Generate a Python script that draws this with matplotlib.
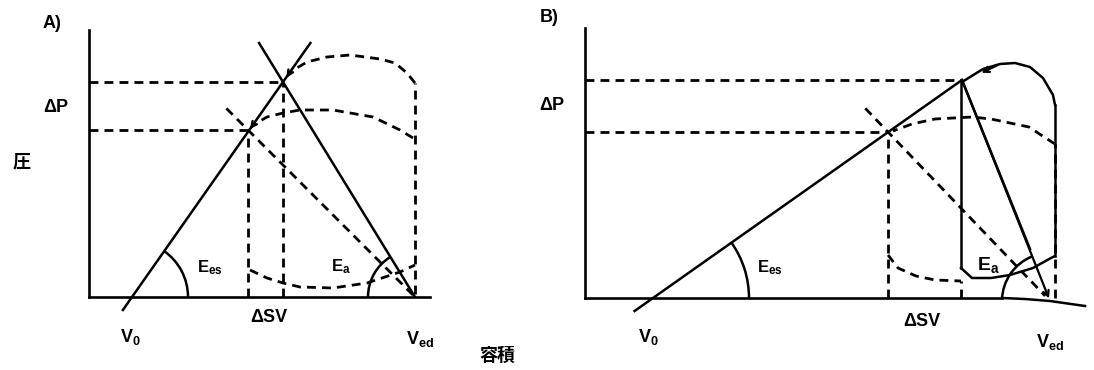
import numpy as np
import matplotlib.pyplot as plt
from matplotlib.patches import Arc

plt.rcParams['font.family'] = ['Liberation Sans', 'Noto Sans CJK JP', 'DejaVu Sans']
plt.rcParams['font.weight'] = 'bold'

# ---- panel A: volume / pressure in diagram units ----
a_v0 = 43
a_ved = 326
a_es_vol = [159, 194]          # end-systolic volume, low / high afterload
a_es_p = [167, 215]            # end-systolic pressure, low / high afterload
a_ej_hi_vol = [326, 318, 306, 291, 261, 238, 218, 201]
a_ej_hi_p = [214, 224, 234, 238, 242, 240, 235, 225]
a_ej_lo_vol = [324, 311, 284, 244, 211, 194, 178, 164]
a_ej_lo_p = [159, 167, 180, 187, 187, 184, 180, 172]
a_fill_vol = [161, 178, 194, 211, 244, 278, 311, 326]
a_fill_p = [27, 19, 14, 10, 9, 14, 25, 32]

# ---- panel B ----
b_v0 = 68
b_ved = 465
b_ved_p = -3
b_es_vol = [303, 377]
b_es_p = [166, 218]
b_ej_hi_vol = [377, 398, 415, 430, 445, 458, 468, 470]
b_ej_hi_p = [216, 229, 234, 235, 231, 220, 203, 193]
b_fill_hi_vol = [376, 387, 406, 425, 448, 466, 470]
b_fill_hi_p = [30, 20, 20, 23, 30, 40, 42]
b_ej_lo_vol = [470, 459, 444, 406, 387, 350, 327, 308]
b_ej_lo_p = [154, 161, 171, 179, 181, 179, 174, 167]
b_fill_lo_vol = [303, 313, 331, 350, 376]
b_fill_lo_p = [43, 30, 22, 18, 17]
b_tail_vol = [417, 440, 465, 500]
b_tail_p = [0, -1, -3, -8]

LW = 1.8
DASH = (0, (3.2, 2.2))
K = 'black'

fig = plt.figure(figsize=(10.94, 3.70), dpi=100)
axA = fig.add_axes([0, 0, 0.5, 1])
axB = fig.add_axes([0.5, 0, 0.5, 1])
axA.set_xlim(-89, 458)
axA.set_ylim(-73, 297)
axB.set_xlim(-38, 509)
axB.set_ylim(-72, 298)


def frame(ax, ytop, xright):
    for s in ['top', 'right']:
        ax.spines[s].set_visible(False)
    for s in ['left', 'bottom']:
        ax.spines[s].set_position(('data', 0))
        ax.spines[s].set_linewidth(1.9)
    ax.spines['left'].set_bounds(0, ytop)
    ax.spines['bottom'].set_bounds(0, xright)
    ax.set_xticks([])
    ax.set_yticks([])
    ax.patch.set_visible(False)


def dashed(ax, x, y):
    ax.plot(x, y, color=K, lw=2.0, ls=DASH, solid_capstyle='butt')


def arrow(ax, start, end):
    ax.annotate('', xy=end, xytext=start,
                arrowprops=dict(arrowstyle='->', color=K, lw=1.6,
                                mutation_scale=10))


def label(ax, x, y, s, size=13):
    ax.text(x, y, s, ha='center', va='center', fontsize=size, fontweight='bold')


# ================= A =================
ax = axA
frame(ax, 267, 341)
ees_a = a_es_p[1] / (a_es_vol[1] - a_v0)
p = np.array([-13, 254])
ax.plot(a_v0 + p / ees_a, p, color=K, lw=LW)
ea_a = a_es_p[1] / (a_ved - a_es_vol[1])
p = np.array([0, 254])
ax.plot(a_ved - p / ea_a, p, color=K, lw=LW)
ea_a2 = a_es_p[0] / (a_ved - a_es_vol[0])
p = np.array([2, 190])
dashed(ax, a_ved - p / ea_a2, p)

for v, pe in zip(a_es_vol, a_es_p):
    dashed(ax, [0, v], [pe, pe])
    dashed(ax, [v, v], [0, pe])

dashed(ax, [a_ved, a_ved], [3, a_ej_hi_p[0]])
dashed(ax, a_ej_hi_vol, a_ej_hi_p)
dashed(ax, a_ej_lo_vol, a_ej_lo_p)
dashed(ax, a_fill_vol, a_fill_p)
arrow(ax, (a_ej_hi_vol[-1], a_ej_hi_p[-1]), (a_es_vol[1] + 2, a_es_p[1] + 2))
arrow(ax, (a_ej_lo_vol[-1], a_ej_lo_p[-1]), (a_es_vol[0] + 2, a_es_p[0] + 1))

ax.add_patch(Arc((a_v0, 0), 112, 112, theta1=0,
                 theta2=np.degrees(np.arctan(ees_a)), color=K, lw=LW))
ax.add_patch(Arc((a_ved, 0), 94, 94,
                 theta1=180 - np.degrees(np.arctan(ea_a)), theta2=180,
                 color=K, lw=LW))

label(ax, -37, 274, 'A)')
label(ax, -33, 190, 'ΔP')
label(ax, -67, 134, '圧')
label(ax, 121, 29, r'$\mathregular{E_{es}}$', 12)
label(ax, 252, 30, r'$\mathregular{E_{a}}$', 12)
label(ax, 180, -21, 'ΔSV')
label(ax, 41, -40, r'$\mathregular{V_{0}}$')
label(ax, 331, -42, r'$\mathregular{V_{ed}}$')

# ================= B =================
ax = axB
frame(ax, 270, 417)
ax.plot(b_tail_vol, b_tail_p, color=K, lw=LW)
ees_b = b_es_p[1] / (b_es_vol[1] - b_v0)
p = np.array([-13, b_es_p[1]])
ax.plot(b_v0 + p / ees_b, p, color=K, lw=LW)
arrow(ax, (b_es_vol[1], b_es_p[1]), (b_ved, b_ved_p))
ax.plot([b_es_vol[1], b_ved - 20], [b_es_p[1], b_ved_p + 52], color=K, lw=LW)
dv = b_ved - b_es_vol[0]
dp = b_ved_p - b_es_p[0]
t = np.array([-0.14, 0.97])
dashed(ax, b_es_vol[0] + t * dv, b_es_p[0] + t * dp)

for v, pe in zip(b_es_vol, b_es_p):
    dashed(ax, [0, v], [pe, pe])
dashed(ax, [b_es_vol[0], b_es_vol[0]], [0, b_es_p[0]])
dashed(ax, [b_fill_lo_vol[-1], b_fill_lo_vol[-1]], [0, b_fill_lo_p[-1]])

# high afterload loop (solid)
ax.plot(b_ej_hi_vol, b_ej_hi_p, color=K, lw=LW)
ax.plot([b_ej_hi_vol[-1], b_ej_hi_vol[-1]], [b_ej_hi_p[-1], b_fill_hi_p[-1]], color=K, lw=LW)
ax.plot(b_fill_hi_vol, b_fill_hi_p, color=K, lw=LW)
ax.plot([b_fill_hi_vol[0], b_fill_hi_vol[0]], [b_fill_hi_p[0], b_es_p[1]], color=K, lw=LW)
arrow(ax, (b_ej_hi_vol[2], b_ej_hi_p[2]), (b_ej_hi_vol[1] - 4, b_ej_hi_p[1] - 5))

# low afterload loop (dashed)
dashed(ax, b_ej_lo_vol, b_ej_lo_p)
dashed(ax, [b_ej_lo_vol[0], b_ej_lo_vol[0]], [0, b_ej_lo_p[0]])
dashed(ax, b_fill_lo_vol, b_fill_lo_p)

ax.add_patch(Arc((b_v0, 0), 192, 192, theta1=0,
                 theta2=np.degrees(np.arctan(ees_b)), color=K, lw=LW))
ang = np.degrees(np.arctan2(b_es_p[1] - b_ved_p, b_es_vol[1] - b_ved))
ax.add_patch(Arc((b_ved, b_ved_p), 96, 96, theta1=ang, theta2=178,
                 color=K, lw=LW))

label(ax, -36, 280, 'B)')
label(ax, -33, 193, 'ΔP')
label(ax, 185, 30, r'$\mathregular{E_{es}}$', 12)
label(ax, 403, 33, r'$\mathregular{E_{a}}$', 14)
label(ax, 337, -24, 'ΔSV')
label(ax, 63, -39, r'$\mathregular{V_{0}}$')
label(ax, 465, -44, r'$\mathregular{V_{ed}}$')

fig.text(497 / 1094, 1 - 356 / 370, '容積', ha='center', va='center',
         fontsize=13, fontweight='bold')

fig.savefig('out.png', dpi=100)
